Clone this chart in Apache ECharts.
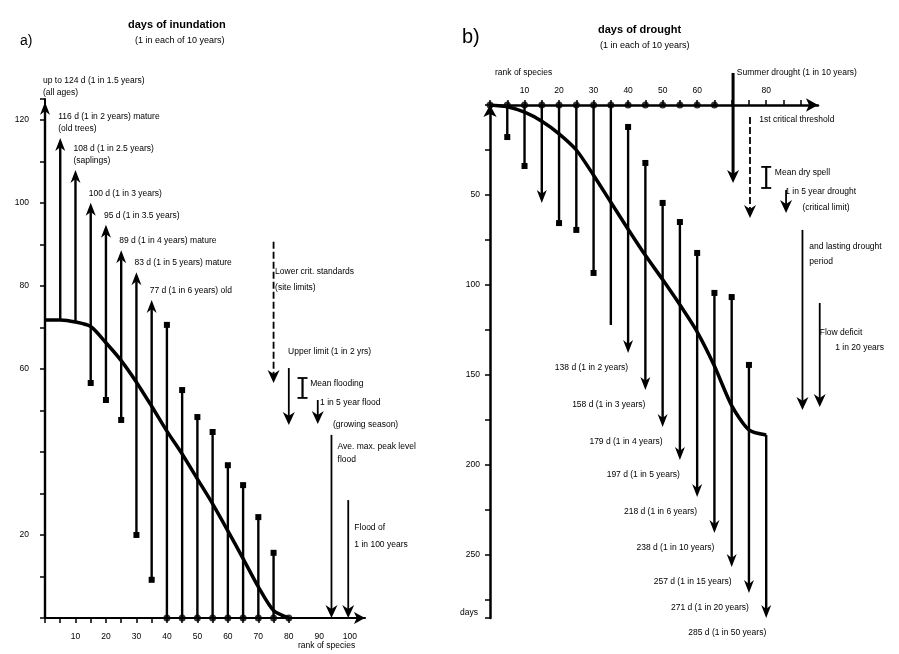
<!DOCTYPE html>
<html>
<head>
<meta charset="utf-8">
<script src="https://cdn.jsdelivr.net/npm/echarts@6.0.0/dist/echarts.min.js"></script>
<style>
  html, body { margin: 0; padding: 0; background: #fff; }
  #main { width: 899px; height: 654px; }
</style>
</head>
<body>
<div id="main"></div>
<script>
// ---- panel a : days of inundation ----
var speciesA = [0, 1, 2, 3, 4, 5, 6, 7, 8, 9, 10, 11, 12, 13, 14, 15, 16];
var curveA = [71.8, 71.8, 71.3, 70.2, 66.3, 62.0, 56.8, 51.0, 45.0, 39.5, 33.5, 27.5, 21.0, 14.3, 7.5, 1.8, 0];
var lowA = [0, 71.8, 71.3, 56.6, 52.5, 47.7, 20.0, 9.2, 0, 0, 0, 0, 0, 0, 0, 0, 0];
var highA = [124.3, 115.6, 107.9, 100.0, 94.7, 88.6, 83.3, 76.6, 70.6, 54.9, 48.4, 44.8, 36.8, 32.0, 24.3, 15.7, 0];
var topKindA = ['arrow', 'arrow', 'arrow', 'arrow', 'arrow', 'arrow', 'arrow', 'arrow',
  'square', 'square', 'square', 'square', 'square', 'square', 'square', 'square', 'none'];
var lowKindA = ['none', 'none', 'none', 'square', 'square', 'square', 'square', 'square',
  'none', 'none', 'none', 'none', 'none', 'none', 'none', 'none', 'none'];
var labelsA = [
  ['up to 124 d (1 in 1.5 years)', '(all ages)'],
  ['116 d (1 in 2 years) mature', '(old trees)'],
  ['108 d (1 in 2.5 years)', '(saplings)'],
  ['100 d (1 in 3 years)'],
  ['95 d (1 in 3.5 years)'],
  ['89 d (1 in 4 years) mature'],
  ['83 d (1 in 5 years) mature'],
  ['77 d (1 in 6 years) old']
];
var baseDotsA = [8, 9, 10, 11, 12, 13, 14, 15, 16];
var xTickA = [2, 4, 6, 8, 10, 12, 14, 16, 18, 20];
var xTickTextA = ['10', '20', '30', '40', '50', '60', '70', '80', '90', '100'];
var yTickA = [20, 60, 80, 100, 120];

var annoXA = [15.0, 16.0, 16.9, 17.9, 18.8, 19.9];
var annoFromA = [90.6, 60.2, 57.8, 52.5, 44.1, 28.4];
var annoToA = [56.6, 46.5, 53.0, 46.7, 0, 0];
var annoKindA = ['dasharrow', 'arrow', 'ibar', 'arrow', 'arrow', 'arrow'];

var noteTextA = ['Lower crit. standards', '(site limits)', 'Upper limit (1 in 2 yrs)', 'Mean flooding',
  '1 in 5 year flood', '(growing season)', 'Ave. max. peak level', 'flood', 'Flood of', '1 in 100 years'];
var noteXA = [15.1, 15.1, 15.95, 17.4, 18.05, 18.9, 19.2, 19.2, 20.3, 20.3];
var noteYA = [83.3, 79.5, 64.1, 56.4, 51.8, 46.5, 41.2, 38.1, 21.7, 17.6];

// ---- panel b : days of drought ----
var speciesB = [0, 1, 2, 3, 4, 5, 6, 7, 8, 9, 10, 11, 12, 13, 14, 15, 16];
var curveB = [0, 1.0, 4.0, 9.0, 16.0, 25.0, 39.0, 54.0, 69.0, 83.5, 97.0, 111.0, 126.0, 145.0, 167.0, 180.5, 183.3];
var lowB = [0, 0, 0, 0, 0, 0, 0, 0, 12.2, 32.2, 54.4, 65.0, 82.2, 104.4, 106.7, 144.4, 183.3];
var highB = [0, 17.8, 33.9, 54.4, 65.6, 69.4, 93.3, 122.2, 137.8, 158.3, 178.9, 197.2, 217.8, 237.8, 256.7, 271.1, 285];
var topKindB = ['none', 'square', 'square', 'arrow', 'square', 'square', 'square', 'none',
  'arrow', 'arrow', 'arrow', 'arrow', 'arrow', 'arrow', 'arrow', 'arrow', 'arrow'];
var lowKindB = ['none', 'none', 'none', 'none', 'none', 'none', 'none', 'none',
  'square', 'square', 'square', 'square', 'square', 'square', 'square', 'square', 'none'];
var labelsB = ['', '', '', '', '', '', '', '',
  '138 d (1 in 2 years)', '158 d (1 in 3 years)', '179 d (1 in 4 years)', '197 d (1 in 5 years)',
  '218 d (1 in 6 years)', '238 d (1 in 10 years)', '257 d (1 in 15 years)', '271 d (1 in 20 years)',
  '285 d (1 in 50 years)'];
var topDotsB = [0, 1, 2, 3, 4, 5, 6, 7, 8, 9, 10, 11, 12, 13];
var xTickB = [2, 4, 6, 8, 10, 12, 16];
var xTickTextB = ['10', '20', '30', '40', '50', '60', '80'];
var yTickB = [50, 100, 150, 200, 250];

var annoXB = [14.08, 15.06, 16.0, 17.15, 18.1, 19.1];
var annoFromB = [-17.8, 6.7, 34.4, 47.2, 69.4, 110];
var annoToB = [43.3, 62.8, 46.1, 60, 169.4, 167.8];
var annoKindB = ['arrow', 'dasharrow', 'ibar', 'arrow', 'arrow', 'arrow'];

var noteTextB = ['Summer drought (1 in 10 years)', '1st critical threshold', 'Mean dry spell',
  '1 in 5 year drought', '(critical limit)', 'and lasting drought', 'period', 'Flow deficit', '1 in 20 years'];
var noteXB = [14.3, 15.6, 16.5, 17.1, 18.1, 18.5, 18.5, 19.1, 20.0];
var noteYB = [-17.8, 8.3, 37.8, 48.3, 57.2, 78.9, 87.2, 126.7, 135];

var FONT = 'Liberation Sans, Arial, sans-serif';
var INK = '#000';

function seg(x1, y1, x2, y2, w, dash) {
  return { type: 'line', shape: { x1: x1, y1: y1, x2: x2, y2: y2 },
    style: { stroke: INK, lineWidth: w, lineDash: dash || null } };
}
function head(x, y, d, hw, h) {
  return { type: 'polygon', shape: { points: [[x, y], [x - hw, y - d * h], [x, y - d * h * 0.7], [x + hw, y - d * h]] },
    style: { fill: INK } };
}
function sq(p) {
  return { type: 'rect', shape: { x: p[0] - 3, y: p[1] - 3, width: 6, height: 6 }, style: { fill: INK } };
}
function txt(x, y, s, align, valign) {
  return { type: 'text', x: x, y: y,
    style: { text: s, fill: INK, fontSize: 8.5, fontFamily: FONT, align: align, verticalAlign: valign, lineHeight: 12 } };
}

function barRenderer(lowArr, highArr, topKind, lowKind, labelFn) {
  return function (params, api) {
    var k = params.dataIndex;
    var x = api.value(0);
    var p1 = api.coord([x, lowArr[k]]);
    var p2 = api.coord([x, highArr[k]]);
    var kids = [];
    if (Math.abs(p2[1] - p1[1]) > 0.5) {
      var d = p2[1] < p1[1] ? -1 : 1;
      var endY = topKind[k] === 'arrow' ? p2[1] - d * 9 : p2[1];
      kids.push(seg(p1[0], p1[1], p2[0], endY, 2.4));
      if (topKind[k] === 'arrow') kids.push(head(p2[0], p2[1], d, 5, 13));
      if (topKind[k] === 'square') kids.push(sq(p2));
      if (lowKind[k] === 'square') kids.push(sq(p1));
    }
    var lab = labelFn(k, p2);
    if (lab) kids.push(lab);
    return { type: 'group', children: kids };
  };
}

function annoRenderer(xs, from, to, kinds, thickFirst) {
  return function (params, api) {
    var k = params.dataIndex;
    var p1 = api.coord([xs[k], from[k]]);
    var p2 = api.coord([xs[k], to[k]]);
    var d = p2[1] < p1[1] ? -1 : 1;
    var kind = kinds[k];
    var kids = [];
    var w = (k === 0 && thickFirst) ? 3 : 1.8;
    if (kind === 'ibar') {
      kids.push(seg(p1[0], p1[1], p2[0], p2[1], 2.2));
      kids.push(seg(p1[0] - 5, p1[1], p1[0] + 5, p1[1], 1.8));
      kids.push(seg(p2[0] - 5, p2[1], p2[0] + 5, p2[1], 1.8));
    } else {
      kids.push(seg(p1[0], p1[1], p2[0], p2[1] - d * 9, w, kind === 'dasharrow' ? [7, 3] : null));
      kids.push(head(p2[0], p2[1], d, 6, 13));
    }
    return { type: 'group', children: kids };
  };
}

function noteRenderer(xs, ys, texts) {
  return function (params, api) {
    var k = params.dataIndex;
    var p = api.coord([xs[k], ys[k]]);
    return txt(p[0], p[1], texts[k], 'left', 'middle');
  };
}

function pairs(xs, ys) { return xs.map(function (x, k) { return [x, ys[k]]; }); }

var axisLineStyle = { color: INK, width: 2 };
var labelStyle = { color: INK, fontSize: 8.5, fontFamily: FONT };

var option = {
  backgroundColor: '#fff',
  animation: false,
  grid: [
    { left: 45, top: 99, width: 320, bottom: 36 },
    { left: 490, top: 105, width: 328, bottom: 36 }
  ],
  xAxis: [
    {
      gridIndex: 0, type: 'value', min: 0, max: 21,
      axisLine: { onZero: false, lineStyle: axisLineStyle, symbol: ['none', 'arrow'], symbolSize: [9, 11] },
      axisTick: { length: 5, lineStyle: { color: INK, width: 1.5 }, customValues: speciesA },
      axisLabel: Object.assign({ margin: 14, customValues: xTickA,
        formatter: function (v) { return xTickTextA[xTickA.indexOf(v)]; } }, labelStyle),
      splitLine: { show: false }
    },
    {
      gridIndex: 1, type: 'value', min: 0, max: 19, position: 'top',
      axisLine: { onZero: false, lineStyle: { color: INK, width: 2.5 }, symbol: ['none', 'arrow'], symbolSize: [10, 12] },
      axisTick: { length: 5, lineStyle: { color: INK, width: 1.5 }, customValues: speciesB.concat([17, 18]) },
      axisLabel: Object.assign({ margin: 10, customValues: xTickB,
        formatter: function (v) { return xTickTextB[xTickB.indexOf(v)]; } }, labelStyle),
      splitLine: { show: false }
    }
  ],
  yAxis: [
    {
      gridIndex: 0, type: 'value', min: 0, max: 125, interval: 10,
      axisLine: { show: true, onZero: false, lineStyle: axisLineStyle },
      axisTick: { show: true, length: 5, lineStyle: { color: INK, width: 1.5 } },
      axisLabel: Object.assign({ margin: 16, customValues: yTickA }, labelStyle),
      splitLine: { show: false }
    },
    {
      gridIndex: 1, type: 'value', min: 0, max: 285, interval: 25, inverse: true,
      axisLine: { show: true, onZero: false, lineStyle: { color: INK, width: 2.5 }, symbol: ['none', 'arrow'], symbolSize: [10, 12] },
      axisTick: { show: true, length: 5, lineStyle: { color: INK, width: 1.5 } },
      axisLabel: Object.assign({ margin: 10, customValues: yTickB }, labelStyle),
      splitLine: { show: false }
    }
  ],
  graphic: [
    { type: 'text', left: 20, top: 34, style: { text: 'a)', fontSize: 14, fontFamily: FONT, fill: INK } },
    { type: 'text', left: 462, top: 27, style: { text: 'b)', fontSize: 20, fontFamily: FONT, fill: INK } },
    { type: 'text', left: 128, top: 19, style: { text: 'days of inundation', fontSize: 11, fontWeight: 'bold', fontFamily: FONT, fill: INK } },
    { type: 'text', left: 135, top: 36, style: { text: '(1 in each of 10 years)', fontSize: 9, fontFamily: FONT, fill: INK } },
    { type: 'text', left: 598, top: 24, style: { text: 'days of drought', fontSize: 11, fontWeight: 'bold', fontFamily: FONT, fill: INK } },
    { type: 'text', left: 600, top: 41, style: { text: '(1 in each of 10 years)', fontSize: 9, fontFamily: FONT, fill: INK } },
    { type: 'text', left: 460, top: 608, style: { text: 'days', fontSize: 8.5, fontFamily: FONT, fill: INK } },
    { type: 'text', left: 298, top: 641, style: { text: 'rank of species', fontSize: 8.5, fontFamily: FONT, fill: INK } },
    { type: 'text', left: 495, top: 68, style: { text: 'rank of species', fontSize: 8.5, fontFamily: FONT, fill: INK } }
  ],
  series: [
    {
      type: 'line', xAxisIndex: 0, yAxisIndex: 0, data: pairs(speciesA, curveA),
      smooth: 0.25, symbol: 'none', lineStyle: { color: INK, width: 3.5 }, z: 3
    },
    {
      type: 'custom', xAxisIndex: 0, yAxisIndex: 0, clip: false,
      data: speciesA.map(function (s, k) { return [s, lowA[k], highA[k]]; }),
      encode: { x: 0, y: [1, 2] },
      renderItem: barRenderer(lowA, highA, topKindA, lowKindA, function (k, p) {
        if (!labelsA[k]) return null;
        return txt(p[0] - 2, p[1] - 3, labelsA[k].join('\n'), 'left', 'bottom');
      })
    },
    {
      type: 'scatter', xAxisIndex: 0, yAxisIndex: 0, symbol: 'circle', symbolSize: 7,
      itemStyle: { color: INK }, data: baseDotsA.map(function (k) { return [speciesA[k], 0]; }), z: 4
    },
    {
      type: 'custom', xAxisIndex: 0, yAxisIndex: 0, clip: false,
      data: pairs(annoXA, annoFromA), renderItem: annoRenderer(annoXA, annoFromA, annoToA, annoKindA, false)
    },
    {
      type: 'custom', xAxisIndex: 0, yAxisIndex: 0, clip: false,
      data: pairs(noteXA, noteYA), renderItem: noteRenderer(noteXA, noteYA, noteTextA)
    },
    {
      type: 'line', xAxisIndex: 1, yAxisIndex: 1, data: pairs(speciesB, curveB),
      smooth: 0.25, symbol: 'none', lineStyle: { color: INK, width: 3.5 }, z: 3
    },
    {
      type: 'custom', xAxisIndex: 1, yAxisIndex: 1, clip: false,
      data: speciesB.map(function (s, k) { return [s, lowB[k], highB[k]]; }),
      encode: { x: 0, y: [1, 2] },
      renderItem: barRenderer(lowB, highB, topKindB, lowKindB, function (k, p) {
        if (!labelsB[k]) return null;
        return txt(p[0], p[1] + 15, labelsB[k], 'right', 'middle');
      })
    },
    {
      type: 'scatter', xAxisIndex: 1, yAxisIndex: 1, symbol: 'circle', symbolSize: 7,
      itemStyle: { color: INK }, data: topDotsB.map(function (k) { return [speciesB[k], 0]; }), z: 4
    },
    {
      type: 'custom', xAxisIndex: 1, yAxisIndex: 1, clip: false,
      data: pairs(annoXB, annoToB), renderItem: annoRenderer(annoXB, annoFromB, annoToB, annoKindB, true)
    },
    {
      type: 'custom', xAxisIndex: 1, yAxisIndex: 1, clip: false,
      data: pairs(noteXB, noteYB.map(function (v) { return Math.max(v, 0); })),
      renderItem: noteRenderer(noteXB, noteYB, noteTextB)
    }
  ]
};

var myChart = echarts.init(document.getElementById('main'));
myChart.setOption(option);
</script>
</body>
</html>
